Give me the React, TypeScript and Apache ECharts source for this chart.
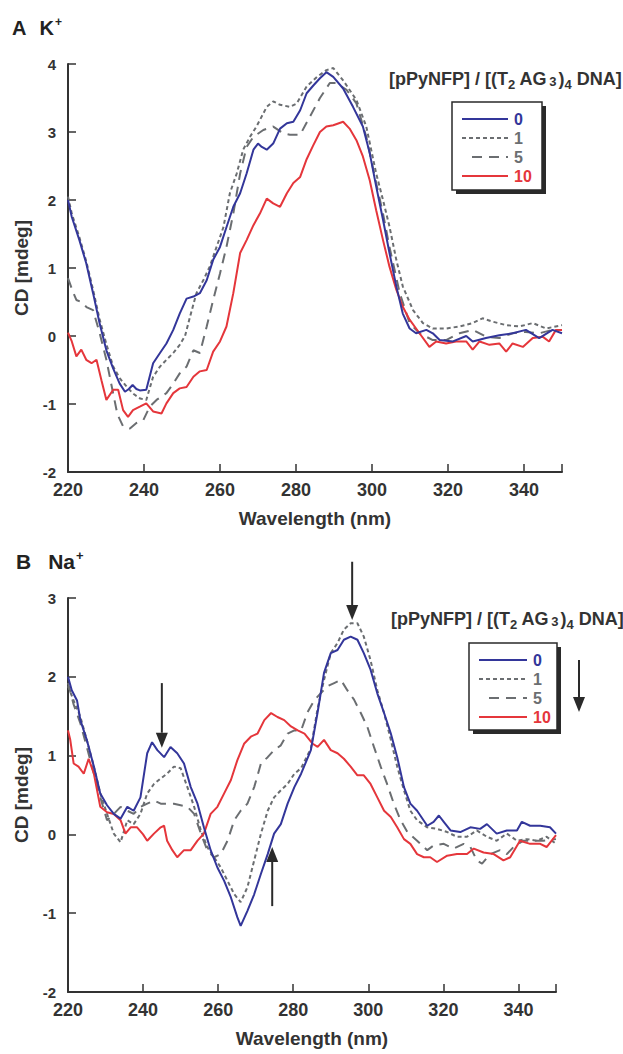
import React, { useEffect, useRef } from "react";
import * as echarts from "echarts";

// ---------- DATA ----------
const X_MIN = 220;
const X_MAX = 350;
const X_INTERVAL = 20;

const LEGEND_LABELS = ["0", "1", "5", "10"];

// Panel A (K+)
const A0: [number, number][] = [[220,2.0],[221,1.75],[223,1.41],[224.8,1.07],[226.6,0.63],[228.3,0.19],[230.1,-0.21],[231.9,-0.48],[233.6,-0.70],[235,-0.82],[236,-0.78],[237,-0.72],[238,-0.78],[238.9,-0.80],[240.6,-0.79],[242.4,-0.40],[244.2,-0.25],[245.9,-0.11],[247.7,0.09],[249.4,0.33],[251.2,0.55],[253,0.58],[254.7,0.63],[256.5,0.82],[258.2,1.12],[260,1.31],[261.7,1.6],[263.5,1.9],[265.3,2.1],[267,2.39],[268.8,2.74],[270,2.83],[271,2.78],[272.3,2.74],[274,2.83],[275.8,3.05],[277.6,3.13],[279.3,3.15],[281.1,3.32],[282.8,3.57],[284.5,3.68],[286.3,3.79],[288,3.88],[289.8,3.81],[292.4,3.64],[295,3.37],[297.6,3.08],[299.4,2.69],[301.1,2.2],[302.9,1.71],[304.6,1.22],[306.4,0.73],[308.1,0.33],[309.9,0.11],[311.6,0.04],[314.3,0.09],[316,0.04],[317.8,-0.06],[321.3,-0.08],[324.8,0.0],[326.5,-0.08],[330,-0.03],[333.5,0.01],[337,0.04],[340.5,0.09],[344,-0.03],[347.5,0.09],[350,0.04]];
const A1: [number, number][] = [[220,2.05],[221,1.8],[223,1.45],[224.8,1.1],[226.6,0.68],[228.3,0.25],[230.1,-0.12],[231.9,-0.45],[233.6,-0.62],[235.5,-0.75],[237.2,-0.85],[239,-0.92],[240.6,-0.94],[242.4,-0.6],[244.2,-0.45],[245.9,-0.35],[247.7,-0.25],[249.4,-0.13],[250.8,0.0],[252.1,0.28],[253.8,0.63],[255.6,0.82],[257.3,1.02],[259.1,1.31],[260.9,1.6],[262.6,2.1],[264.4,2.39],[266.1,2.74],[267.9,2.93],[269.6,3.08],[272.3,3.37],[274,3.45],[275.8,3.4],[278.4,3.37],[280.2,3.42],[282.8,3.67],[285.5,3.81],[288,3.91],[289.8,3.94],[292.4,3.76],[295.9,3.47],[298.5,3.08],[301.1,2.39],[302.9,2.0],[304.6,1.61],[306.4,1.12],[308.1,0.73],[310.8,0.38],[313.4,0.19],[316,0.11],[319.5,0.11],[323,0.14],[326.5,0.19],[329.1,0.26],[331.8,0.21],[335.3,0.16],[338.8,0.14],[342.3,0.19],[345.8,0.11],[350,0.16]];
const A5: [number, number][] = [[220,0.85],[221.3,0.65],[222.2,0.53],[223.5,0.5],[225,0.42],[226.6,0.38],[228.3,0.05],[230.1,-0.35],[231.9,-0.85],[233,-1.15],[234.5,-1.33],[236.3,-1.36],[238,-1.28],[239.8,-1.24],[241.5,-1.04],[243.3,-0.94],[245.9,-0.84],[247.7,-0.7],[249.4,-0.55],[251.2,-0.45],[253,-0.21],[254.7,-0.25],[256.5,0.14],[258.2,0.53],[260,0.92],[261.7,1.31],[263.5,1.8],[265.3,2.39],[267,2.78],[268.8,2.93],[271.4,3.03],[274,3.08],[276.7,2.98],[278.4,2.96],[281.1,2.96],[283.7,3.23],[286.3,3.5],[288.9,3.72],[290.6,3.72],[293.3,3.62],[295.9,3.42],[298.5,2.93],[301.1,2.25],[302.9,1.8],[304.6,1.31],[307.3,0.63],[309.9,0.19],[312.5,0.04],[316,-0.06],[319.5,-0.06],[323,0.04],[326.5,0.09],[330,-0.01],[333.5,-0.03],[337,0.04],[340.5,0.06],[344,0.04],[347.5,0.09],[350,0.09]];
const A10: [number, number][] = [[220,0.05],[221,-0.08],[222.2,-0.3],[223.5,-0.2],[224.8,-0.35],[226.2,-0.4],[227.5,-0.35],[228.8,-0.65],[230.1,-0.94],[231.9,-0.79],[233.2,-0.79],[234.5,-1.09],[235.8,-1.19],[237.1,-1.09],[238.9,-1.04],[240.6,-0.99],[242.4,-1.11],[244.6,-1.14],[245.9,-0.99],[247.7,-0.84],[249.4,-0.77],[251.2,-0.75],[253,-0.6],[254.7,-0.52],[256.5,-0.5],[258.2,-0.23],[260,-0.08],[261.7,0.14],[263.5,0.63],[265.3,1.22],[267,1.41],[268.8,1.63],[270.5,1.8],[272.3,2.02],[274,1.95],[275.8,1.9],[277.6,2.1],[279.3,2.25],[281.1,2.34],[282.8,2.6],[284.5,2.8],[286.3,3.0],[288,3.08],[289.8,3.1],[292.4,3.15],[294.1,3.05],[295.9,2.88],[297.6,2.64],[299.4,2.29],[301.1,1.85],[302.9,1.41],[304.6,1.02],[306.4,0.68],[308.1,0.43],[309.9,0.24],[312.5,0.04],[315.1,-0.16],[316.9,-0.08],[319.5,-0.11],[322.1,-0.08],[324.8,-0.08],[326.5,-0.2],[328.3,-0.08],[330.9,-0.13],[333.5,-0.11],[335.3,-0.23],[337,-0.11],[339.7,-0.16],[342.3,-0.03],[344.9,-0.01],[346.6,-0.08],[348.4,0.09],[350,0.09]];

// Panel B (Na+)
const B0: [number, number][] = [[220,2.0],[221,1.83],[222.4,1.7],[223.3,1.45],[225,1.2],[226.9,0.86],[228.6,0.52],[230.4,0.37],[232.2,0.26],[234,0.2],[235.8,0.35],[237.5,0.3],[239.3,0.47],[241.1,1.03],[242.4,1.17],[243.8,1.07],[245.6,0.98],[247.3,1.11],[249.1,1.03],[250.9,0.9],[252.7,0.6],[254.5,0.39],[256.2,0.09],[258,-0.2],[259.8,-0.42],[261.6,-0.59],[263.4,-0.8],[265.1,-1.05],[266,-1.16],[267.8,-0.97],[269.6,-0.76],[271.4,-0.5],[273.2,-0.25],[274.9,0.01],[276.7,0.13],[278.5,0.39],[280.3,0.6],[282.1,0.77],[284.7,1.07],[286.5,1.55],[288.2,2.05],[290,2.3],[291.8,2.34],[293.5,2.47],[295.3,2.51],[297.1,2.47],[298.8,2.3],[300.6,2.09],[302.4,1.79],[304.2,1.54],[306,1.28],[307.7,0.98],[309.5,0.6],[311.2,0.39],[313,0.3],[315.7,0.11],[317.4,0.16],[318.8,0.24],[320.1,0.16],[321.9,0.05],[324.5,0.03],[327.2,0.09],[329.8,0.07],[331.6,0.13],[334.2,0.01],[336.9,0.05],[339.6,0.05],[340.9,0.16],[343.1,0.11],[345.8,0.11],[348.4,0.09],[350,0.01]];
const B1: [number, number][] = [[220,1.88],[221.5,1.7],[223.3,1.49],[225,1.2],[226.9,0.86],[228.6,0.52],[230.4,0.26],[232.2,0.01],[234,-0.1],[235.8,0.18],[237.5,0.13],[239.3,0.26],[241.1,0.52],[242.9,0.64],[244.7,0.71],[246.4,0.77],[248.2,0.86],[250,0.84],[251.8,0.6],[253.6,0.35],[255.4,0.05],[257.1,-0.16],[258.9,-0.29],[260.7,-0.42],[262.5,-0.59],[264.3,-0.76],[266,-0.86],[267.8,-0.67],[269.6,-0.33],[271.4,0.01],[273.2,0.3],[274.9,0.47],[276.7,0.56],[278.5,0.64],[280.3,0.77],[282.1,0.84],[284.7,1.09],[286.5,1.6],[288.2,1.96],[290,2.3],[291.8,2.43],[293.5,2.6],[295.3,2.68],[297.1,2.68],[298.8,2.51],[300.6,2.21],[302.4,1.83],[304.2,1.54],[306,1.2],[307.7,0.86],[309.5,0.56],[311.2,0.3],[313,0.18],[315.7,0.09],[318.3,0.07],[321,0.03],[323.6,-0.03],[326.3,-0.03],[328.9,0.05],[331.6,-0.03],[334.2,-0.08],[336.9,0.01],[339.6,-0.08],[342.2,-0.06],[344.9,-0.08],[347.5,-0.03],[350,-0.12]];
const B5: [number, number][] = [[220,1.92],[221.5,1.65],[223.3,1.41],[225,1.11],[226.9,0.77],[228.6,0.47],[230.4,0.18],[232.2,0.26],[234,0.35],[235.8,0.3],[237.5,0.26],[239.3,0.35],[241.1,0.39],[242.9,0.43],[244.7,0.39],[246.4,0.39],[248.2,0.39],[250,0.37],[251.8,0.35],[253.6,0.26],[255.4,0.01],[257.1,-0.2],[258.9,-0.29],[260.7,-0.25],[262.5,-0.08],[264.3,0.18],[266,0.3],[267.8,0.39],[269.6,0.6],[271.4,0.9],[273.2,0.98],[274.9,1.07],[276.7,1.13],[278.5,1.28],[280.3,1.32],[282.1,1.32],[283.8,1.55],[285.6,1.7],[287.3,1.79],[289.1,1.88],[290.9,1.92],[292.7,1.96],[294.4,1.83],[296.2,1.71],[298,1.54],[299.7,1.37],[301.5,1.11],[303.3,0.86],[305,0.64],[306.8,0.39],[308.6,0.18],[310.4,0.03],[313,-0.08],[315.7,-0.2],[317.4,-0.14],[320.1,-0.12],[322.7,-0.18],[325.4,-0.12],[327.2,-0.16],[328.9,-0.33],[330.3,-0.37],[332.5,-0.25],[335.1,-0.2],[336.9,-0.25],[338.7,-0.16],[341.3,-0.08],[344,-0.08],[346.6,-0.08],[350,-0.06]];
const B10: [number, number][] = [[220,1.32],[220.6,1.2],[221.5,0.9],[222.8,0.86],[224.2,0.77],[225.5,0.96],[226.9,0.77],[228.6,0.35],[230.4,0.28],[232.2,0.26],[234,0.18],[235.3,0.01],[236.7,0.09],[238.4,0.09],[240,0.0],[241.1,-0.08],[242.9,0.01],[244.7,0.09],[245.6,0.11],[246.4,-0.08],[247.8,-0.2],[249.1,-0.29],[250.9,-0.2],[252.7,-0.2],[254.5,-0.08],[256.2,0.01],[258,0.26],[259.8,0.35],[261.6,0.52],[263.4,0.69],[265.1,0.94],[266.9,1.15],[268.7,1.24],[270.5,1.28],[272.3,1.45],[274.1,1.54],[275.8,1.49],[277.6,1.45],[279.4,1.37],[281.2,1.32],[283,1.28],[285.2,1.15],[286.5,1.11],[288.2,1.2],[290,1.07],[291.8,1.03],[293.5,0.96],[295.3,0.86],[297.1,0.75],[298.8,0.75],[300.6,0.64],[302.4,0.47],[304.2,0.3],[306,0.22],[307.7,0.09],[309.5,-0.06],[311.2,-0.12],[313,-0.25],[314.8,-0.29],[316.5,-0.29],[318.3,-0.35],[321,-0.27],[323.6,-0.25],[326.3,-0.25],[328.1,-0.18],[330.7,-0.23],[333.4,-0.25],[336,-0.33],[337.8,-0.29],[340.4,-0.08],[343.1,-0.12],[345.8,-0.12],[347.5,-0.16],[350,-0.01]];

// Arrows in panel B, in data units (wavelength, CD)
const ARROWS_B: { from: [number, number]; to: [number, number] }[] = [
  { from: [245, 1.92], to: [245, 1.1] },
  { from: [295.7, 3.46], to: [295.7, 2.72] },
  { from: [274.4, -0.91], to: [274.4, -0.16] },
];

// ---------- STYLES ----------
const FONT = "'Liberation Sans', Arial, Helvetica, sans-serif";
const AXIS_COLOR = "#333333";
const TEXT_COLOR = "#333333";
const COLORS = ["#33369a", "#6b6e71", "#6b6e71", "#e5363b"];
const DASHES: any[] = ["solid", [4, 3], [10, 7], "solid"];

const PANELS = [
  { series: [A0, A1, A5, A10], yMin: -2, yMax: 4, grid: { left: 68, top: 64, width: 494, height: 408 } },
  { series: [B0, B1, B5, B10], yMin: -2, yMax: 3, grid: { left: 68, top: 598, width: 488, height: 394 } },
];

function buildOption(): any {
  const grid: any[] = [];
  const xAxis: any[] = [];
  const yAxis: any[] = [];
  const series: any[] = [];
  PANELS.forEach((p, gi) => {
    grid.push({ ...p.grid, containLabel: false });
    xAxis.push({
      type: "value",
      gridIndex: gi,
      min: X_MIN,
      max: X_MAX,
      interval: X_INTERVAL,
      name: "Wavelength (nm)",
      nameLocation: "middle",
      nameGap: 37,
      nameTextStyle: { fontFamily: FONT, fontWeight: "bold", fontSize: 19, color: TEXT_COLOR },
      axisLine: { show: true, onZero: false, lineStyle: { color: AXIS_COLOR, width: 2 } },
      axisTick: { show: true, inside: true, length: 8, lineStyle: { color: AXIS_COLOR, width: 1.5 } },
      axisLabel: {
        fontFamily: FONT, fontWeight: "bold", fontSize: 18, color: TEXT_COLOR, margin: 9,
        formatter: (v: number) => (v > 340 ? "" : String(v)),
      },
      splitLine: { show: false },
    });
    yAxis.push({
      type: "value",
      gridIndex: gi,
      min: p.yMin,
      max: p.yMax,
      interval: 1,
      name: "CD [mdeg]",
      nameLocation: "middle",
      nameGap: 37,
      nameRotate: 90,
      nameTextStyle: { fontFamily: FONT, fontWeight: "bold", fontSize: 19, color: TEXT_COLOR },
      axisLine: { show: true, onZero: false, lineStyle: { color: AXIS_COLOR, width: 2 } },
      axisTick: { show: true, inside: true, length: 8, lineStyle: { color: AXIS_COLOR, width: 1.5 } },
      axisLabel: { fontFamily: FONT, fontWeight: "bold", fontSize: 15, color: TEXT_COLOR, margin: 12 },
      splitLine: { show: false },
    });
    p.series.forEach((d, si) => {
      series.push({
        type: "line",
        name: LEGEND_LABELS[si],
        xAxisIndex: gi,
        yAxisIndex: gi,
        data: d,
        symbol: "none",
        showSymbol: false,
        clip: true,
        z: si === 0 ? 5 : si === 3 ? 4 : 3,
        lineStyle: { color: COLORS[si], width: 2, type: DASHES[si] },
      });
    });
  });
  return { animation: false, backgroundColor: "#ffffff", grid, xAxis, yAxis, series };
}

function titleRich(letter: string, ion: string, x: number, y: number, size: number, gap: number) {
  return {
    type: "text",
    left: x,
    top: y,
    style: {
      text: `{b|${letter}}{g|}{b|${ion}}{sup|+}`,
      rich: {
        b: { fontFamily: FONT, fontWeight: "bold", fontSize: size, fill: "#222" },
        g: { width: gap },
        sup: { fontFamily: FONT, fontWeight: "bold", fontSize: Math.round(size * 0.62), fill: "#222", padding: [0, 0, 11, 1] },
      },
    },
  };
}

function legendTitle(x: number, y: number) {
  return {
    type: "text",
    left: x,
    top: y,
    style: {
      text: "{m|[pPyNFP] / [(T}{s|2}{m| AG}{t|3}{m|)}{s|4}{m| DNA]}",
      rich: {
        m: { fontFamily: FONT, fontWeight: "bold", fontSize: 18, fill: "#333" },
        s: { fontFamily: FONT, fontWeight: "bold", fontSize: 13, fill: "#333", padding: [10, 0, 0, 0] },
        t: { fontFamily: FONT, fontWeight: "bold", fontSize: 13, fill: "#333", padding: [5, 2, 0, 2] },
      },
    },
  };
}

function legendBox(x: number, y: number, w: number, h: number, rowGap: number, lineW: number) {
  const els: any[] = [];
  els.push({ type: "rect", shape: { x: x + 4, y: y + 4, width: w, height: h }, style: { fill: "#2a2a2a" } });
  els.push({ type: "rect", shape: { x, y, width: w, height: h }, style: { fill: "#ffffff", stroke: "#2a2a2a", lineWidth: 1.5 } });
  LEGEND_LABELS.forEach((lab, i) => {
    const ly = y + 17 + i * rowGap;
    const x1 = x + 10;
    const x2 = x1 + lineW;
    const short = i === 2;
    els.push({
      type: "line",
      shape: { x1: short ? x1 + 10 : x1, y1: ly, x2, y2: ly },
      style: { stroke: COLORS[i], lineWidth: 2, lineDash: DASHES[i] === "solid" ? null : DASHES[i] },
    });
    els.push({
      type: "text",
      x: x2 + 6,
      y: ly,
      style: {
        text: lab,
        fontFamily: FONT,
        fontWeight: "bold",
        fontSize: 16,
        fill: i === 0 ? COLORS[0] : i === 3 ? COLORS[3] : "#6b6e71",
        verticalAlign: "middle",
        align: "left",
      },
    });
  });
  return els;
}

function arrowEls(p0: number[], p1: number[]) {
  const dir = p1[1] > p0[1] ? 1 : -1;
  const headL = 15;
  const headW = 6;
  return [
    { type: "line", shape: { x1: p0[0], y1: p0[1], x2: p1[0], y2: p1[1] - dir * headL }, style: { stroke: "#2a2a2a", lineWidth: 2 } },
    {
      type: "polygon",
      shape: { points: [[p1[0] - headW, p1[1] - dir * headL], [p1[0] + headW, p1[1] - dir * headL], [p1[0], p1[1]]] },
      style: { fill: "#2a2a2a" },
    },
  ];
}

export default function App() {
  const ref = useRef<HTMLDivElement>(null);
  useEffect(() => {
    document.body.style.margin = "0";
    const chart = echarts.init(ref.current!, null, { renderer: "svg" });
    chart.setOption(buildOption());

    const graphic: any[] = [];
    graphic.push(titleRich("A", "K", 12, 16, 20, 13));
    graphic.push(titleRich("B", "Na", 16, 549, 21, 17));
    graphic.push(legendTitle(389, 70));
    graphic.push(...legendBox(452, 102, 90, 88, 19, 46));
    graphic.push(legendTitle(391, 610));
    graphic.push(...legendBox(469, 643, 88, 87, 19, 48));
    // legend arrow beside panel B legend
    graphic.push(...arrowEls([579, 660], [579, 712]));
    ARROWS_B.forEach((a) => {
      const p0 = chart.convertToPixel({ seriesIndex: 4 }, a.from) as number[];
      const p1 = chart.convertToPixel({ seriesIndex: 4 }, a.to) as number[];
      graphic.push(...arrowEls(p0, p1));
    });
    chart.setOption({ graphic });
    return () => chart.dispose();
  }, []);
  return <div ref={ref} style={{ width: 623, height: 1054 }} />;
}
